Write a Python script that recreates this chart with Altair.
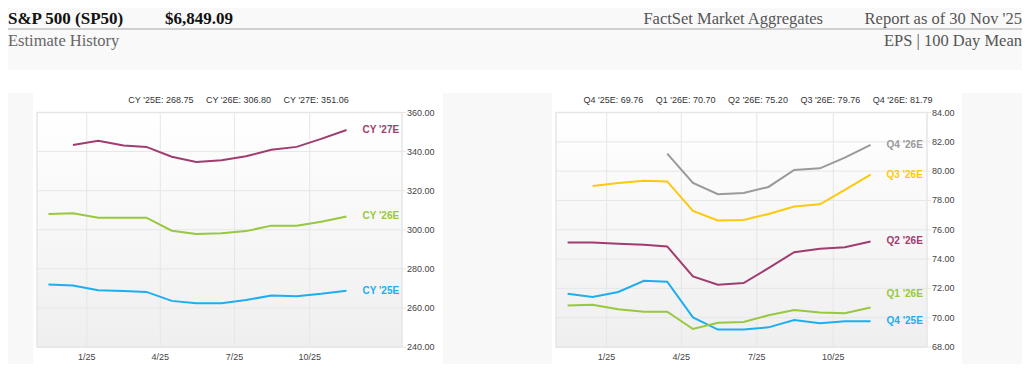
import altair as alt
import pandas as pd

# ---------------- data ----------------
months = ["2024-11-15", "2024-12-15", "2025-01-15", "2025-02-15", "2025-03-15",
          "2025-04-15", "2025-05-15", "2025-06-15", "2025-07-15", "2025-08-15",
          "2025-09-15", "2025-10-15", "2025-11-15"]

cy_names = ["CY '25E", "CY '26E", "CY '27E"]
cy25 = [272.0, 271.5, 269.1, 268.6, 268.2, 263.6, 262.4, 262.4, 264.0, 266.4, 266.0, 267.2, 268.75]
cy26 = [308.1, 308.4, 306.2, 306.2, 306.2, 299.5, 297.8, 298.2, 299.3, 302.1, 302.1, 304.1, 306.80]
cy27 = [None, 343.4, 345.5, 343.1, 342.4, 337.4, 334.7, 335.6, 337.6, 340.9, 342.4, 346.5, 351.06]

q_names = ["Q4 '25E", "Q1 '26E", "Q2 '26E", "Q3 '26E", "Q4 '26E"]
q4_25 = [71.64, 71.41, 71.75, 72.52, 72.45, 70.02, 69.19, 69.19, 69.34, 69.84, 69.62, 69.75, 69.76]
q1_26 = [70.84, 70.89, 70.57, 70.41, 70.41, 69.23, 69.66, 69.70, 70.16, 70.52, 70.36, 70.30, 70.70]
q2_26 = [75.13, 75.13, 75.04, 74.97, 74.86, 72.82, 72.25, 72.36, 73.38, 74.47, 74.70, 74.81, 75.20]
q3_26 = [None, 78.99, 79.19, 79.35, 79.30, 77.29, 76.63, 76.67, 77.08, 77.58, 77.74, 78.72, 79.76]
q4_26 = [None, None, None, None, 81.20, 79.20, 78.42, 78.51, 78.92, 80.08, 80.19, 80.92, 81.79]

cy_ticks = [240, 260, 280, 300, 320, 340, 360]
q_ticks = [68, 70, 72, 74, 76, 78, 80, 82, 84]
x_tick_dates = ["2025-01-01", "2025-04-01", "2025-07-01", "2025-10-01"]
x_tick_labels = ["1/25", "4/25", "7/25", "10/25"]

title_left = "S&P 500 (SP50)"
price = "$6,849.09"
source = "FactSet Market Aggregates"
report = "Report as of 30 Nov '25"
subtitle = "Estimate History"
measure = "EPS | 100 Day Mean"

# ---------------- styling ----------------
W, H = 1014, 356
FONT = "Liberation Sans, Arial, sans-serif"
SERIF = "Liberation Serif, Times New Roman, serif"
GRID = "#e6e6e6"
PANEL_GRAY = "#f8f8f8"
cy_colors = ["#1eaef0", "#98c83c", "#a03c6e"]
q_colors = ["#1eaef0", "#98c83c", "#a03c6e", "#fdc90d", "#9a9a9a"]

X_DOMAIN = [alt.DateTime(year=2024, month=11, date=1, utc=True),
            alt.DateTime(year=2026, month=1, date=22, utc=True)]
Y_RANGE = [339, 104.5]

one = pd.DataFrame({"a": [0]})


def long_df(names, arrays):
    rows = []
    for n, arr in zip(names, arrays):
        for d, v in zip(months, arr):
            if v is not None:
                rows.append({"date": d, "series": n, "value": v})
    return pd.DataFrame(rows)


def panel(names, arrays, colors, ydomain, yticks, xr, center_x, nudge):
    df = long_df(names, arrays)
    last = df.groupby("series", sort=False).tail(1)
    xs = alt.Scale(type="utc", domain=X_DOMAIN, range=xr)
    ys = alt.Scale(domain=ydomain, range=Y_RANGE)
    cs = alt.Scale(domain=names, range=colors)

    grad = {"gradient": "linear", "x1": 0, "y1": 0, "x2": 0, "y2": 1,
            "stops": [{"offset": 0, "color": "#ffffff"},
                      {"offset": 1, "color": "#efefef"}]}
    bg = alt.Chart(one).mark_rect(fill=grad, stroke=GRID, strokeWidth=1.5).encode(
        x=alt.value(xr[0]), x2=alt.value(xr[1]),
        y=alt.value(Y_RANGE[1]), y2=alt.value(Y_RANGE[0]))

    xt = pd.DataFrame({"date": x_tick_dates, "label": x_tick_labels})
    vgrid = alt.Chart(xt).mark_rule(color=GRID, strokeWidth=1).encode(
        x=alt.X("date:T", scale=xs, axis=None),
        y=alt.value(Y_RANGE[1]), y2=alt.value(Y_RANGE[0]))
    xlab = alt.Chart(xt).mark_text(font=FONT, fontSize=9, color="#444",
                                   align="center", baseline="middle").encode(
        x=alt.X("date:T", scale=xs, axis=None), y=alt.value(349), text="label:N")

    yt = pd.DataFrame({"v": yticks})
    hgrid = alt.Chart(yt).mark_rule(color=GRID, strokeWidth=1).encode(
        y=alt.Y("v:Q", scale=ys, axis=None),
        x=alt.value(xr[0]), x2=alt.value(xr[1] + 4))
    ylab = alt.Chart(yt).mark_text(font=FONT, fontSize=9, color="#444",
                                   align="left", baseline="middle").encode(
        y=alt.Y("v:Q", scale=ys, axis=None), x=alt.value(xr[1] + 5),
        text=alt.Text("v:Q", format=".2f"))

    lines = alt.Chart(df).mark_line(strokeWidth=2).encode(
        x=alt.X("date:T", scale=xs, axis=None),
        y=alt.Y("value:Q", scale=ys, axis=None),
        color=alt.Color("series:N", scale=cs, legend=None),
        detail="series:N")

    def labels(data, dy):
        return alt.Chart(data).mark_text(font=FONT, fontSize=10, fontWeight="bold",
                                         align="left", baseline="middle",
                                         dx=16, dy=dy).encode(
            x=alt.X("date:T", scale=xs, axis=None),
            y=alt.Y("value:Q", scale=ys, axis=None),
            text="series:N",
            color=alt.Color("series:N", scale=cs, legend=None))

    normal = last[~last["series"].isin(nudge)]
    moved = last[last["series"].isin(nudge)]
    lab_layers = [labels(normal, 0)]
    if len(moved):
        lab_layers.append(labels(moved, -13))

    summary = "\u00a0\u00a0\u00a0\u00a0\u00a0".join(
        f"{r.series}: {r.value:.2f}" for r in last.itertuples())
    top = alt.Chart(one).mark_text(text=summary, font=FONT, fontSize=9, color="#333",
                                   align="center", baseline="middle").encode(
        x=alt.value(center_x), y=alt.value(92))

    return alt.layer(bg, vgrid, hgrid, lines, *lab_layers, xlab, ylab, top)


left = panel(cy_names, [cy25, cy26, cy27], cy_colors, [240, 360], cy_ticks,
             [29, 394], 230.5, [])
right = panel(q_names, [q4_25, q1_26, q2_26, q3_26, q4_26], q_colors, [68, 84], q_ticks,
              [548, 919], 750, ["Q1 '26E"])


def rect(x, x2, y, y2, color):
    return alt.Chart(one).mark_rect(color=color).encode(
        x=alt.value(x), x2=alt.value(x2), y=alt.value(y), y2=alt.value(y2))


def label(txt, x, y, align, size, weight, color, font=SERIF):
    return alt.Chart(one).mark_text(text=txt, font=font, fontSize=size, fontWeight=weight,
                                    color=color, align=align, baseline="alphabetic").encode(
        x=alt.value(x), y=alt.value(y))


frame = alt.layer(
    rect(0, W, 0, 62, "#f9f9f9"),
    rect(0, 25, 85, H, PANEL_GRAY),
    rect(435, 544, 85, H, PANEL_GRAY),
    rect(954, W, 85, H, PANEL_GRAY),
    alt.Chart(one).mark_rule(color="#cfcfcf", strokeWidth=2).encode(
        x=alt.value(0), x2=alt.value(W), y=alt.value(21)),
    label(title_left, 0, 16, "left", 17, "bold", "#111"),
    label(price, 157, 16, "left", 17, "bold", "#111"),
    label(source, 815, 16, "right", 16.5, "normal", "#555"),
    label(report, W, 16, "right", 16.5, "normal", "#555"),
    label(subtitle, 0, 38, "left", 16.5, "normal", "#666"),
    label(measure, W, 38, "right", 16.5, "normal", "#555"),
)

chart = alt.layer(frame, left, right).resolve_scale(
    x="independent", y="independent", color="independent"
).properties(
    width=W, height=H, padding=0, background="#ffffff",
    autosize=alt.AutoSizeParams(type="none")
).configure_view(stroke=None)

chart.save("out.html", embed_options={"renderer": "svg", "actions": False})
